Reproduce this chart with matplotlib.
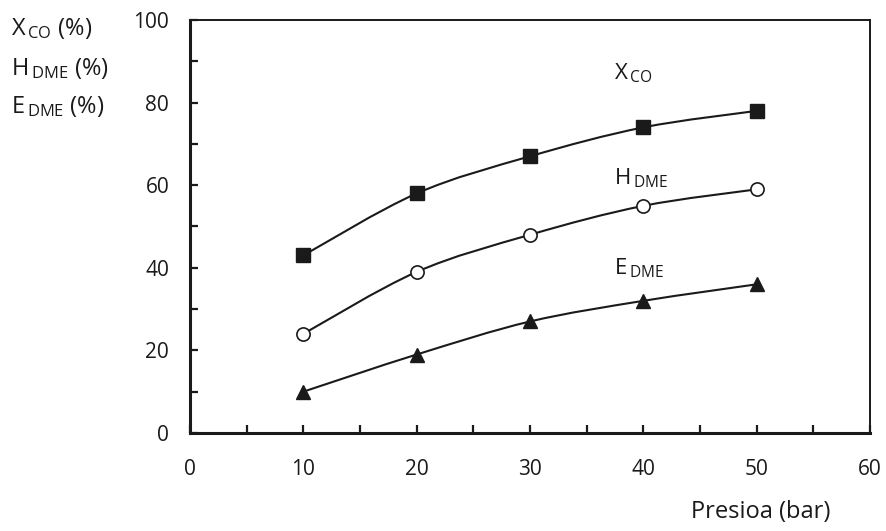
import matplotlib.pyplot as plt
from matplotlib.path import Path
from matplotlib.patches import PathPatch
from matplotlib.ticker import MultipleLocator

plt.rcParams['font.family'] = ['Open Sans', 'DejaVu Sans']
plt.rcParams['mathtext.default'] = 'regular'

presion = [10, 20, 30, 40, 50]
x_co = [43, 58, 67, 74, 78]
h_dme = [24, 39, 48, 55, 59]
e_dme = [10, 19, 27, 32, 36]

INK = '#1a1a1a'


def curva(ax, xs, ys):
    # smooth line through the points (Catmull-Rom as cubic Bezier)
    verts = [(xs[0], ys[0])]
    codes = [Path.MOVETO]
    n = len(xs)
    for i in range(n - 1):
        x0, y0 = (xs[i - 1], ys[i - 1]) if i > 0 else (xs[i], ys[i])
        x1, y1 = xs[i], ys[i]
        x2, y2 = xs[i + 1], ys[i + 1]
        x3, y3 = (xs[i + 2], ys[i + 2]) if i + 2 < n else (x2, y2)
        c1 = (x1 + (x2 - x0) / 6, y1 + (y2 - y0) / 6)
        c2 = (x2 - (x3 - x1) / 6, y2 - (y3 - y1) / 6)
        verts += [c1, c2, (x2, y2)]
        codes += [Path.CURVE4] * 3
    ax.add_patch(PathPatch(Path(verts, codes), fill=False, lw=1.5,
                           edgecolor=INK, zorder=2))


fig = plt.figure(figsize=(8.86, 5.31), dpi=100)
ax = fig.add_axes([0.2144, 0.1846, 0.7676, 0.7777])

curva(ax, presion, x_co)
curva(ax, presion, h_dme)
curva(ax, presion, e_dme)
ax.plot(presion, x_co, 's', ms=10, color=INK, zorder=3)
ax.plot(presion, h_dme, 'o', ms=9.5, mfc='white', mec=INK, mew=1.2, zorder=3)
ax.plot(presion, e_dme, '^', ms=10, color=INK, zorder=3)

ax.set_xlim(0, 60)
ax.set_ylim(0, 100)
ax.xaxis.set_major_locator(MultipleLocator(10))
ax.xaxis.set_minor_locator(MultipleLocator(5))
ax.yaxis.set_major_locator(MultipleLocator(20))
ax.yaxis.set_minor_locator(MultipleLocator(10))
ax.tick_params(which='both', direction='in', length=6, width=1.6,
               color=INK, labelsize=15, labelcolor=INK)
ax.tick_params(axis='x', which='major', pad=19)
ax.tick_params(axis='y', which='major', pad=15)
for s in ['left', 'bottom']:
    ax.spines[s].set_linewidth(2.2)
for s in ['top', 'right']:
    ax.spines[s].set_linewidth(1.4)
for s in ax.spines.values():
    s.set_color(INK)

ax.text(37.4, 85.5, '$X_{\\,CO}$', fontsize=16, color=INK)
ax.text(37.4, 60.3, '$H_{\\,DME}$', fontsize=16, color=INK)
ax.text(37.4, 38.3, '$E_{\\,DME}$', fontsize=16, color=INK)

fig.text(0.012, 0.934, '$X_{\\,CO}$ (%)', fontsize=17, color=INK)
fig.text(0.012, 0.859, '$H_{\\,DME}$ (%)', fontsize=17, color=INK)
fig.text(0.012, 0.787, '$E_{\\,DME}$ (%)', fontsize=17, color=INK)
fig.text(0.937, 0.025, 'Presioa (bar)', fontsize=17, color=INK, ha='right')

fig.savefig('out.png', dpi=100)
